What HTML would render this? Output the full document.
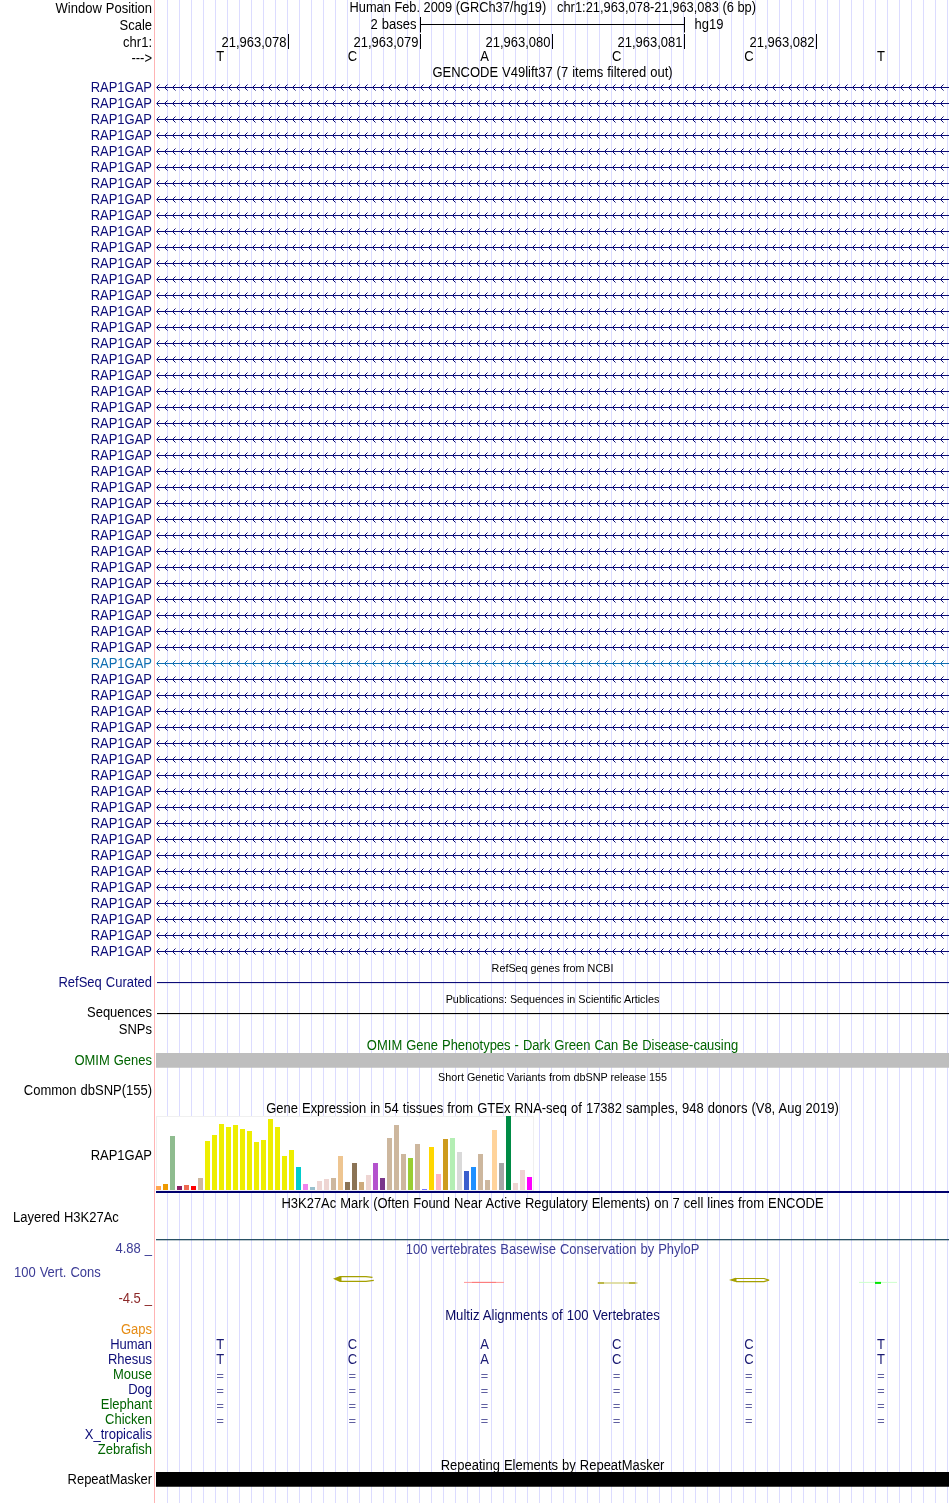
<!DOCTYPE html>
<html><head><meta charset="utf-8"><style>html,body{margin:0;padding:0;background:#fff;width:950px;height:1503px;overflow:hidden}</style></head>
<body><svg width="950" height="1503" viewBox="0 0 950 1503" font-family='"Liberation Sans", sans-serif' font-size="13" style="display:block;will-change:transform"><rect x="167" y="0" width="1" height="1503" fill="#dcdcff"/>
<rect x="179" y="0" width="1" height="1503" fill="#dcdcff"/>
<rect x="191" y="0" width="1" height="1503" fill="#dcdcff"/>
<rect x="203" y="0" width="1" height="1503" fill="#dcdcff"/>
<rect x="215" y="0" width="1" height="1503" fill="#dcdcff"/>
<rect x="227" y="0" width="1" height="1503" fill="#dcdcff"/>
<rect x="239" y="0" width="1" height="1503" fill="#dcdcff"/>
<rect x="251" y="0" width="1" height="1503" fill="#dcdcff"/>
<rect x="263" y="0" width="1" height="1503" fill="#dcdcff"/>
<rect x="275" y="0" width="1" height="1503" fill="#dcdcff"/>
<rect x="287" y="0" width="1" height="1503" fill="#dcdcff"/>
<rect x="299" y="0" width="1" height="1503" fill="#dcdcff"/>
<rect x="311" y="0" width="1" height="1503" fill="#dcdcff"/>
<rect x="323" y="0" width="1" height="1503" fill="#dcdcff"/>
<rect x="335" y="0" width="1" height="1503" fill="#dcdcff"/>
<rect x="347" y="0" width="1" height="1503" fill="#dcdcff"/>
<rect x="359" y="0" width="1" height="1503" fill="#dcdcff"/>
<rect x="371" y="0" width="1" height="1503" fill="#dcdcff"/>
<rect x="383" y="0" width="1" height="1503" fill="#dcdcff"/>
<rect x="395" y="0" width="1" height="1503" fill="#dcdcff"/>
<rect x="407" y="0" width="1" height="1503" fill="#dcdcff"/>
<rect x="419" y="0" width="1" height="1503" fill="#dcdcff"/>
<rect x="431" y="0" width="1" height="1503" fill="#dcdcff"/>
<rect x="443" y="0" width="1" height="1503" fill="#dcdcff"/>
<rect x="455" y="0" width="1" height="1503" fill="#dcdcff"/>
<rect x="467" y="0" width="1" height="1503" fill="#dcdcff"/>
<rect x="479" y="0" width="1" height="1503" fill="#dcdcff"/>
<rect x="491" y="0" width="1" height="1503" fill="#dcdcff"/>
<rect x="503" y="0" width="1" height="1503" fill="#dcdcff"/>
<rect x="515" y="0" width="1" height="1503" fill="#dcdcff"/>
<rect x="527" y="0" width="1" height="1503" fill="#dcdcff"/>
<rect x="539" y="0" width="1" height="1503" fill="#dcdcff"/>
<rect x="551" y="0" width="1" height="1503" fill="#dcdcff"/>
<rect x="563" y="0" width="1" height="1503" fill="#dcdcff"/>
<rect x="575" y="0" width="1" height="1503" fill="#dcdcff"/>
<rect x="587" y="0" width="1" height="1503" fill="#dcdcff"/>
<rect x="599" y="0" width="1" height="1503" fill="#dcdcff"/>
<rect x="611" y="0" width="1" height="1503" fill="#dcdcff"/>
<rect x="623" y="0" width="1" height="1503" fill="#dcdcff"/>
<rect x="635" y="0" width="1" height="1503" fill="#dcdcff"/>
<rect x="647" y="0" width="1" height="1503" fill="#dcdcff"/>
<rect x="659" y="0" width="1" height="1503" fill="#dcdcff"/>
<rect x="671" y="0" width="1" height="1503" fill="#dcdcff"/>
<rect x="683" y="0" width="1" height="1503" fill="#dcdcff"/>
<rect x="695" y="0" width="1" height="1503" fill="#dcdcff"/>
<rect x="707" y="0" width="1" height="1503" fill="#dcdcff"/>
<rect x="719" y="0" width="1" height="1503" fill="#dcdcff"/>
<rect x="731" y="0" width="1" height="1503" fill="#dcdcff"/>
<rect x="743" y="0" width="1" height="1503" fill="#dcdcff"/>
<rect x="755" y="0" width="1" height="1503" fill="#dcdcff"/>
<rect x="767" y="0" width="1" height="1503" fill="#dcdcff"/>
<rect x="779" y="0" width="1" height="1503" fill="#dcdcff"/>
<rect x="791" y="0" width="1" height="1503" fill="#dcdcff"/>
<rect x="803" y="0" width="1" height="1503" fill="#dcdcff"/>
<rect x="815" y="0" width="1" height="1503" fill="#dcdcff"/>
<rect x="827" y="0" width="1" height="1503" fill="#dcdcff"/>
<rect x="839" y="0" width="1" height="1503" fill="#dcdcff"/>
<rect x="851" y="0" width="1" height="1503" fill="#dcdcff"/>
<rect x="863" y="0" width="1" height="1503" fill="#dcdcff"/>
<rect x="875" y="0" width="1" height="1503" fill="#dcdcff"/>
<rect x="887" y="0" width="1" height="1503" fill="#dcdcff"/>
<rect x="899" y="0" width="1" height="1503" fill="#dcdcff"/>
<rect x="911" y="0" width="1" height="1503" fill="#dcdcff"/>
<rect x="923" y="0" width="1" height="1503" fill="#dcdcff"/>
<rect x="935" y="0" width="1" height="1503" fill="#dcdcff"/>
<rect x="947" y="0" width="1" height="1503" fill="#dcdcff"/>
<rect x="154" y="0" width="1" height="1503" fill="#ffb4b4"/>
<text transform="translate(152,13) scale(1,1.08)" text-anchor="end" word-spacing="0.4" >Window Position</text>
<text transform="translate(349.5,11.8) scale(0.987,1.08)" >Human Feb. 2009 (GRCh37/hg19)</text>
<text transform="translate(557,11.8) scale(0.991,1.08)" >chr1:21,963,078-21,963,083 (6 bp)</text>
<text transform="translate(152,30) scale(1,1.08)" text-anchor="end" >Scale</text>
<text transform="translate(416.5,28.7) scale(1,1.08)" text-anchor="end" word-spacing="0.4" >2 bases</text>
<rect x="420" y="24" width="265" height="1" fill="#000"/>
<rect x="420" y="17" width="1" height="15.5" fill="#000"/>
<rect x="684" y="17" width="1" height="15.5" fill="#000"/>
<text transform="translate(694.5,28.7) scale(1,1.08)" >hg19</text>
<text transform="translate(152,47) scale(1,1.08)" text-anchor="end" >chr1:</text>
<text transform="translate(286.5,46.8) scale(1,1.08)" text-anchor="end" >21,963,078</text>
<rect x="288" y="34" width="1" height="15" fill="#000"/>
<text transform="translate(418.5,46.8) scale(1,1.08)" text-anchor="end" >21,963,079</text>
<rect x="420" y="34" width="1" height="15" fill="#000"/>
<text transform="translate(550.5,46.8) scale(1,1.08)" text-anchor="end" >21,963,080</text>
<rect x="552" y="34" width="1" height="15" fill="#000"/>
<text transform="translate(682.5,46.8) scale(1,1.08)" text-anchor="end" >21,963,081</text>
<rect x="684" y="34" width="1" height="15" fill="#000"/>
<text transform="translate(814.5,46.8) scale(1,1.08)" text-anchor="end" >21,963,082</text>
<rect x="816" y="34" width="1" height="15" fill="#000"/>
<text transform="translate(152,63) scale(1,1.08)" text-anchor="end" >---&gt;</text>
<text transform="translate(220.3,61) scale(1,1.08)" text-anchor="middle" >T</text>
<text transform="translate(352.45000000000005,61) scale(1,1.08)" text-anchor="middle" >C</text>
<text transform="translate(484.6,61) scale(1,1.08)" text-anchor="middle" >A</text>
<text transform="translate(616.75,61) scale(1,1.08)" text-anchor="middle" >C</text>
<text transform="translate(748.9000000000001,61) scale(1,1.08)" text-anchor="middle" >C</text>
<text transform="translate(881.05,61) scale(1,1.08)" text-anchor="middle" >T</text>
<text transform="translate(552.5,77) scale(1,1.08)" text-anchor="middle" word-spacing="0.4" >GENCODE V49lift37 (7 items filtered out)</text>
<defs><g id="arr" shape-rendering="crispEdges"><rect x="157" y="0" width="792" height="1"/><rect x="156" y="0" width="1" height="1" fill-opacity="0.6"/><path d="M157,-1h1v3h-1zM158,-2h1v1h-1zM158,2h1v1h-1zM165,-1h1v3h-1zM166,-2h1v1h-1zM166,2h1v1h-1zM173,-1h1v3h-1zM174,-2h1v1h-1zM174,2h1v1h-1zM181,-1h1v3h-1zM182,-2h1v1h-1zM182,2h1v1h-1zM189,-1h1v3h-1zM190,-2h1v1h-1zM190,2h1v1h-1zM197,-1h1v3h-1zM198,-2h1v1h-1zM198,2h1v1h-1zM205,-1h1v3h-1zM206,-2h1v1h-1zM206,2h1v1h-1zM213,-1h1v3h-1zM214,-2h1v1h-1zM214,2h1v1h-1zM221,-1h1v3h-1zM222,-2h1v1h-1zM222,2h1v1h-1zM229,-1h1v3h-1zM230,-2h1v1h-1zM230,2h1v1h-1zM237,-1h1v3h-1zM238,-2h1v1h-1zM238,2h1v1h-1zM245,-1h1v3h-1zM246,-2h1v1h-1zM246,2h1v1h-1zM253,-1h1v3h-1zM254,-2h1v1h-1zM254,2h1v1h-1zM261,-1h1v3h-1zM262,-2h1v1h-1zM262,2h1v1h-1zM269,-1h1v3h-1zM270,-2h1v1h-1zM270,2h1v1h-1zM277,-1h1v3h-1zM278,-2h1v1h-1zM278,2h1v1h-1zM285,-1h1v3h-1zM286,-2h1v1h-1zM286,2h1v1h-1zM293,-1h1v3h-1zM294,-2h1v1h-1zM294,2h1v1h-1zM301,-1h1v3h-1zM302,-2h1v1h-1zM302,2h1v1h-1zM309,-1h1v3h-1zM310,-2h1v1h-1zM310,2h1v1h-1zM317,-1h1v3h-1zM318,-2h1v1h-1zM318,2h1v1h-1zM325,-1h1v3h-1zM326,-2h1v1h-1zM326,2h1v1h-1zM333,-1h1v3h-1zM334,-2h1v1h-1zM334,2h1v1h-1zM341,-1h1v3h-1zM342,-2h1v1h-1zM342,2h1v1h-1zM349,-1h1v3h-1zM350,-2h1v1h-1zM350,2h1v1h-1zM357,-1h1v3h-1zM358,-2h1v1h-1zM358,2h1v1h-1zM365,-1h1v3h-1zM366,-2h1v1h-1zM366,2h1v1h-1zM373,-1h1v3h-1zM374,-2h1v1h-1zM374,2h1v1h-1zM381,-1h1v3h-1zM382,-2h1v1h-1zM382,2h1v1h-1zM389,-1h1v3h-1zM390,-2h1v1h-1zM390,2h1v1h-1zM397,-1h1v3h-1zM398,-2h1v1h-1zM398,2h1v1h-1zM405,-1h1v3h-1zM406,-2h1v1h-1zM406,2h1v1h-1zM413,-1h1v3h-1zM414,-2h1v1h-1zM414,2h1v1h-1zM421,-1h1v3h-1zM422,-2h1v1h-1zM422,2h1v1h-1zM429,-1h1v3h-1zM430,-2h1v1h-1zM430,2h1v1h-1zM437,-1h1v3h-1zM438,-2h1v1h-1zM438,2h1v1h-1zM445,-1h1v3h-1zM446,-2h1v1h-1zM446,2h1v1h-1zM453,-1h1v3h-1zM454,-2h1v1h-1zM454,2h1v1h-1zM461,-1h1v3h-1zM462,-2h1v1h-1zM462,2h1v1h-1zM469,-1h1v3h-1zM470,-2h1v1h-1zM470,2h1v1h-1zM477,-1h1v3h-1zM478,-2h1v1h-1zM478,2h1v1h-1zM485,-1h1v3h-1zM486,-2h1v1h-1zM486,2h1v1h-1zM493,-1h1v3h-1zM494,-2h1v1h-1zM494,2h1v1h-1zM501,-1h1v3h-1zM502,-2h1v1h-1zM502,2h1v1h-1zM509,-1h1v3h-1zM510,-2h1v1h-1zM510,2h1v1h-1zM517,-1h1v3h-1zM518,-2h1v1h-1zM518,2h1v1h-1zM525,-1h1v3h-1zM526,-2h1v1h-1zM526,2h1v1h-1zM533,-1h1v3h-1zM534,-2h1v1h-1zM534,2h1v1h-1zM541,-1h1v3h-1zM542,-2h1v1h-1zM542,2h1v1h-1zM549,-1h1v3h-1zM550,-2h1v1h-1zM550,2h1v1h-1zM557,-1h1v3h-1zM558,-2h1v1h-1zM558,2h1v1h-1zM565,-1h1v3h-1zM566,-2h1v1h-1zM566,2h1v1h-1zM573,-1h1v3h-1zM574,-2h1v1h-1zM574,2h1v1h-1zM581,-1h1v3h-1zM582,-2h1v1h-1zM582,2h1v1h-1zM589,-1h1v3h-1zM590,-2h1v1h-1zM590,2h1v1h-1zM597,-1h1v3h-1zM598,-2h1v1h-1zM598,2h1v1h-1zM605,-1h1v3h-1zM606,-2h1v1h-1zM606,2h1v1h-1zM613,-1h1v3h-1zM614,-2h1v1h-1zM614,2h1v1h-1zM621,-1h1v3h-1zM622,-2h1v1h-1zM622,2h1v1h-1zM629,-1h1v3h-1zM630,-2h1v1h-1zM630,2h1v1h-1zM637,-1h1v3h-1zM638,-2h1v1h-1zM638,2h1v1h-1zM645,-1h1v3h-1zM646,-2h1v1h-1zM646,2h1v1h-1zM653,-1h1v3h-1zM654,-2h1v1h-1zM654,2h1v1h-1zM661,-1h1v3h-1zM662,-2h1v1h-1zM662,2h1v1h-1zM669,-1h1v3h-1zM670,-2h1v1h-1zM670,2h1v1h-1zM677,-1h1v3h-1zM678,-2h1v1h-1zM678,2h1v1h-1zM685,-1h1v3h-1zM686,-2h1v1h-1zM686,2h1v1h-1zM693,-1h1v3h-1zM694,-2h1v1h-1zM694,2h1v1h-1zM701,-1h1v3h-1zM702,-2h1v1h-1zM702,2h1v1h-1zM709,-1h1v3h-1zM710,-2h1v1h-1zM710,2h1v1h-1zM717,-1h1v3h-1zM718,-2h1v1h-1zM718,2h1v1h-1zM725,-1h1v3h-1zM726,-2h1v1h-1zM726,2h1v1h-1zM733,-1h1v3h-1zM734,-2h1v1h-1zM734,2h1v1h-1zM741,-1h1v3h-1zM742,-2h1v1h-1zM742,2h1v1h-1zM749,-1h1v3h-1zM750,-2h1v1h-1zM750,2h1v1h-1zM757,-1h1v3h-1zM758,-2h1v1h-1zM758,2h1v1h-1zM765,-1h1v3h-1zM766,-2h1v1h-1zM766,2h1v1h-1zM773,-1h1v3h-1zM774,-2h1v1h-1zM774,2h1v1h-1zM781,-1h1v3h-1zM782,-2h1v1h-1zM782,2h1v1h-1zM789,-1h1v3h-1zM790,-2h1v1h-1zM790,2h1v1h-1zM797,-1h1v3h-1zM798,-2h1v1h-1zM798,2h1v1h-1zM805,-1h1v3h-1zM806,-2h1v1h-1zM806,2h1v1h-1zM813,-1h1v3h-1zM814,-2h1v1h-1zM814,2h1v1h-1zM821,-1h1v3h-1zM822,-2h1v1h-1zM822,2h1v1h-1zM829,-1h1v3h-1zM830,-2h1v1h-1zM830,2h1v1h-1zM837,-1h1v3h-1zM838,-2h1v1h-1zM838,2h1v1h-1zM845,-1h1v3h-1zM846,-2h1v1h-1zM846,2h1v1h-1zM853,-1h1v3h-1zM854,-2h1v1h-1zM854,2h1v1h-1zM861,-1h1v3h-1zM862,-2h1v1h-1zM862,2h1v1h-1zM869,-1h1v3h-1zM870,-2h1v1h-1zM870,2h1v1h-1zM877,-1h1v3h-1zM878,-2h1v1h-1zM878,2h1v1h-1zM885,-1h1v3h-1zM886,-2h1v1h-1zM886,2h1v1h-1zM893,-1h1v3h-1zM894,-2h1v1h-1zM894,2h1v1h-1zM901,-1h1v3h-1zM902,-2h1v1h-1zM902,2h1v1h-1zM909,-1h1v3h-1zM910,-2h1v1h-1zM910,2h1v1h-1zM917,-1h1v3h-1zM918,-2h1v1h-1zM918,2h1v1h-1zM925,-1h1v3h-1zM926,-2h1v1h-1zM926,2h1v1h-1zM933,-1h1v3h-1zM934,-2h1v1h-1zM934,2h1v1h-1zM941,-1h1v3h-1zM942,-2h1v1h-1zM942,2h1v1h-1z"/><path d="M159,-3h1v1h-1zM159,3h1v1h-1zM167,-3h1v1h-1zM167,3h1v1h-1zM175,-3h1v1h-1zM175,3h1v1h-1zM183,-3h1v1h-1zM183,3h1v1h-1zM191,-3h1v1h-1zM191,3h1v1h-1zM199,-3h1v1h-1zM199,3h1v1h-1zM207,-3h1v1h-1zM207,3h1v1h-1zM215,-3h1v1h-1zM215,3h1v1h-1zM223,-3h1v1h-1zM223,3h1v1h-1zM231,-3h1v1h-1zM231,3h1v1h-1zM239,-3h1v1h-1zM239,3h1v1h-1zM247,-3h1v1h-1zM247,3h1v1h-1zM255,-3h1v1h-1zM255,3h1v1h-1zM263,-3h1v1h-1zM263,3h1v1h-1zM271,-3h1v1h-1zM271,3h1v1h-1zM279,-3h1v1h-1zM279,3h1v1h-1zM287,-3h1v1h-1zM287,3h1v1h-1zM295,-3h1v1h-1zM295,3h1v1h-1zM303,-3h1v1h-1zM303,3h1v1h-1zM311,-3h1v1h-1zM311,3h1v1h-1zM319,-3h1v1h-1zM319,3h1v1h-1zM327,-3h1v1h-1zM327,3h1v1h-1zM335,-3h1v1h-1zM335,3h1v1h-1zM343,-3h1v1h-1zM343,3h1v1h-1zM351,-3h1v1h-1zM351,3h1v1h-1zM359,-3h1v1h-1zM359,3h1v1h-1zM367,-3h1v1h-1zM367,3h1v1h-1zM375,-3h1v1h-1zM375,3h1v1h-1zM383,-3h1v1h-1zM383,3h1v1h-1zM391,-3h1v1h-1zM391,3h1v1h-1zM399,-3h1v1h-1zM399,3h1v1h-1zM407,-3h1v1h-1zM407,3h1v1h-1zM415,-3h1v1h-1zM415,3h1v1h-1zM423,-3h1v1h-1zM423,3h1v1h-1zM431,-3h1v1h-1zM431,3h1v1h-1zM439,-3h1v1h-1zM439,3h1v1h-1zM447,-3h1v1h-1zM447,3h1v1h-1zM455,-3h1v1h-1zM455,3h1v1h-1zM463,-3h1v1h-1zM463,3h1v1h-1zM471,-3h1v1h-1zM471,3h1v1h-1zM479,-3h1v1h-1zM479,3h1v1h-1zM487,-3h1v1h-1zM487,3h1v1h-1zM495,-3h1v1h-1zM495,3h1v1h-1zM503,-3h1v1h-1zM503,3h1v1h-1zM511,-3h1v1h-1zM511,3h1v1h-1zM519,-3h1v1h-1zM519,3h1v1h-1zM527,-3h1v1h-1zM527,3h1v1h-1zM535,-3h1v1h-1zM535,3h1v1h-1zM543,-3h1v1h-1zM543,3h1v1h-1zM551,-3h1v1h-1zM551,3h1v1h-1zM559,-3h1v1h-1zM559,3h1v1h-1zM567,-3h1v1h-1zM567,3h1v1h-1zM575,-3h1v1h-1zM575,3h1v1h-1zM583,-3h1v1h-1zM583,3h1v1h-1zM591,-3h1v1h-1zM591,3h1v1h-1zM599,-3h1v1h-1zM599,3h1v1h-1zM607,-3h1v1h-1zM607,3h1v1h-1zM615,-3h1v1h-1zM615,3h1v1h-1zM623,-3h1v1h-1zM623,3h1v1h-1zM631,-3h1v1h-1zM631,3h1v1h-1zM639,-3h1v1h-1zM639,3h1v1h-1zM647,-3h1v1h-1zM647,3h1v1h-1zM655,-3h1v1h-1zM655,3h1v1h-1zM663,-3h1v1h-1zM663,3h1v1h-1zM671,-3h1v1h-1zM671,3h1v1h-1zM679,-3h1v1h-1zM679,3h1v1h-1zM687,-3h1v1h-1zM687,3h1v1h-1zM695,-3h1v1h-1zM695,3h1v1h-1zM703,-3h1v1h-1zM703,3h1v1h-1zM711,-3h1v1h-1zM711,3h1v1h-1zM719,-3h1v1h-1zM719,3h1v1h-1zM727,-3h1v1h-1zM727,3h1v1h-1zM735,-3h1v1h-1zM735,3h1v1h-1zM743,-3h1v1h-1zM743,3h1v1h-1zM751,-3h1v1h-1zM751,3h1v1h-1zM759,-3h1v1h-1zM759,3h1v1h-1zM767,-3h1v1h-1zM767,3h1v1h-1zM775,-3h1v1h-1zM775,3h1v1h-1zM783,-3h1v1h-1zM783,3h1v1h-1zM791,-3h1v1h-1zM791,3h1v1h-1zM799,-3h1v1h-1zM799,3h1v1h-1zM807,-3h1v1h-1zM807,3h1v1h-1zM815,-3h1v1h-1zM815,3h1v1h-1zM823,-3h1v1h-1zM823,3h1v1h-1zM831,-3h1v1h-1zM831,3h1v1h-1zM839,-3h1v1h-1zM839,3h1v1h-1zM847,-3h1v1h-1zM847,3h1v1h-1zM855,-3h1v1h-1zM855,3h1v1h-1zM863,-3h1v1h-1zM863,3h1v1h-1zM871,-3h1v1h-1zM871,3h1v1h-1zM879,-3h1v1h-1zM879,3h1v1h-1zM887,-3h1v1h-1zM887,3h1v1h-1zM895,-3h1v1h-1zM895,3h1v1h-1zM903,-3h1v1h-1zM903,3h1v1h-1zM911,-3h1v1h-1zM911,3h1v1h-1zM919,-3h1v1h-1zM919,3h1v1h-1zM927,-3h1v1h-1zM927,3h1v1h-1zM935,-3h1v1h-1zM935,3h1v1h-1zM943,-3h1v1h-1zM943,3h1v1h-1z" fill-opacity="0.55"/></g></defs>
<text transform="translate(152,92) scale(1,1.08)" text-anchor="end" fill="rgb(12,12,120)" >RAP1GAP</text>
<use href="#arr" y="87" fill="rgb(12,12,120)"/>
<text transform="translate(152,108) scale(1,1.08)" text-anchor="end" fill="rgb(12,12,120)" >RAP1GAP</text>
<use href="#arr" y="103" fill="rgb(12,12,120)"/>
<text transform="translate(152,124) scale(1,1.08)" text-anchor="end" fill="rgb(12,12,120)" >RAP1GAP</text>
<use href="#arr" y="119" fill="rgb(12,12,120)"/>
<text transform="translate(152,140) scale(1,1.08)" text-anchor="end" fill="rgb(12,12,120)" >RAP1GAP</text>
<use href="#arr" y="135" fill="rgb(12,12,120)"/>
<text transform="translate(152,156) scale(1,1.08)" text-anchor="end" fill="rgb(12,12,120)" >RAP1GAP</text>
<use href="#arr" y="151" fill="rgb(12,12,120)"/>
<text transform="translate(152,172) scale(1,1.08)" text-anchor="end" fill="rgb(12,12,120)" >RAP1GAP</text>
<use href="#arr" y="167" fill="rgb(12,12,120)"/>
<text transform="translate(152,188) scale(1,1.08)" text-anchor="end" fill="rgb(12,12,120)" >RAP1GAP</text>
<use href="#arr" y="183" fill="rgb(12,12,120)"/>
<text transform="translate(152,204) scale(1,1.08)" text-anchor="end" fill="rgb(12,12,120)" >RAP1GAP</text>
<use href="#arr" y="199" fill="rgb(12,12,120)"/>
<text transform="translate(152,220) scale(1,1.08)" text-anchor="end" fill="rgb(12,12,120)" >RAP1GAP</text>
<use href="#arr" y="215" fill="rgb(12,12,120)"/>
<text transform="translate(152,236) scale(1,1.08)" text-anchor="end" fill="rgb(12,12,120)" >RAP1GAP</text>
<use href="#arr" y="231" fill="rgb(12,12,120)"/>
<text transform="translate(152,252) scale(1,1.08)" text-anchor="end" fill="rgb(12,12,120)" >RAP1GAP</text>
<use href="#arr" y="247" fill="rgb(12,12,120)"/>
<text transform="translate(152,268) scale(1,1.08)" text-anchor="end" fill="rgb(12,12,120)" >RAP1GAP</text>
<use href="#arr" y="263" fill="rgb(12,12,120)"/>
<text transform="translate(152,284) scale(1,1.08)" text-anchor="end" fill="rgb(12,12,120)" >RAP1GAP</text>
<use href="#arr" y="279" fill="rgb(12,12,120)"/>
<text transform="translate(152,300) scale(1,1.08)" text-anchor="end" fill="rgb(12,12,120)" >RAP1GAP</text>
<use href="#arr" y="295" fill="rgb(12,12,120)"/>
<text transform="translate(152,316) scale(1,1.08)" text-anchor="end" fill="rgb(12,12,120)" >RAP1GAP</text>
<use href="#arr" y="311" fill="rgb(12,12,120)"/>
<text transform="translate(152,332) scale(1,1.08)" text-anchor="end" fill="rgb(12,12,120)" >RAP1GAP</text>
<use href="#arr" y="327" fill="rgb(12,12,120)"/>
<text transform="translate(152,348) scale(1,1.08)" text-anchor="end" fill="rgb(12,12,120)" >RAP1GAP</text>
<use href="#arr" y="343" fill="rgb(12,12,120)"/>
<text transform="translate(152,364) scale(1,1.08)" text-anchor="end" fill="rgb(12,12,120)" >RAP1GAP</text>
<use href="#arr" y="359" fill="rgb(12,12,120)"/>
<text transform="translate(152,380) scale(1,1.08)" text-anchor="end" fill="rgb(12,12,120)" >RAP1GAP</text>
<use href="#arr" y="375" fill="rgb(12,12,120)"/>
<text transform="translate(152,396) scale(1,1.08)" text-anchor="end" fill="rgb(12,12,120)" >RAP1GAP</text>
<use href="#arr" y="391" fill="rgb(12,12,120)"/>
<text transform="translate(152,412) scale(1,1.08)" text-anchor="end" fill="rgb(12,12,120)" >RAP1GAP</text>
<use href="#arr" y="407" fill="rgb(12,12,120)"/>
<text transform="translate(152,428) scale(1,1.08)" text-anchor="end" fill="rgb(12,12,120)" >RAP1GAP</text>
<use href="#arr" y="423" fill="rgb(12,12,120)"/>
<text transform="translate(152,444) scale(1,1.08)" text-anchor="end" fill="rgb(12,12,120)" >RAP1GAP</text>
<use href="#arr" y="439" fill="rgb(12,12,120)"/>
<text transform="translate(152,460) scale(1,1.08)" text-anchor="end" fill="rgb(12,12,120)" >RAP1GAP</text>
<use href="#arr" y="455" fill="rgb(12,12,120)"/>
<text transform="translate(152,476) scale(1,1.08)" text-anchor="end" fill="rgb(12,12,120)" >RAP1GAP</text>
<use href="#arr" y="471" fill="rgb(12,12,120)"/>
<text transform="translate(152,492) scale(1,1.08)" text-anchor="end" fill="rgb(12,12,120)" >RAP1GAP</text>
<use href="#arr" y="487" fill="rgb(12,12,120)"/>
<text transform="translate(152,508) scale(1,1.08)" text-anchor="end" fill="rgb(12,12,120)" >RAP1GAP</text>
<use href="#arr" y="503" fill="rgb(12,12,120)"/>
<text transform="translate(152,524) scale(1,1.08)" text-anchor="end" fill="rgb(12,12,120)" >RAP1GAP</text>
<use href="#arr" y="519" fill="rgb(12,12,120)"/>
<text transform="translate(152,540) scale(1,1.08)" text-anchor="end" fill="rgb(12,12,120)" >RAP1GAP</text>
<use href="#arr" y="535" fill="rgb(12,12,120)"/>
<text transform="translate(152,556) scale(1,1.08)" text-anchor="end" fill="rgb(12,12,120)" >RAP1GAP</text>
<use href="#arr" y="551" fill="rgb(12,12,120)"/>
<text transform="translate(152,572) scale(1,1.08)" text-anchor="end" fill="rgb(12,12,120)" >RAP1GAP</text>
<use href="#arr" y="567" fill="rgb(12,12,120)"/>
<text transform="translate(152,588) scale(1,1.08)" text-anchor="end" fill="rgb(12,12,120)" >RAP1GAP</text>
<use href="#arr" y="583" fill="rgb(12,12,120)"/>
<text transform="translate(152,604) scale(1,1.08)" text-anchor="end" fill="rgb(12,12,120)" >RAP1GAP</text>
<use href="#arr" y="599" fill="rgb(12,12,120)"/>
<text transform="translate(152,620) scale(1,1.08)" text-anchor="end" fill="rgb(12,12,120)" >RAP1GAP</text>
<use href="#arr" y="615" fill="rgb(12,12,120)"/>
<text transform="translate(152,636) scale(1,1.08)" text-anchor="end" fill="rgb(12,12,120)" >RAP1GAP</text>
<use href="#arr" y="631" fill="rgb(12,12,120)"/>
<text transform="translate(152,652) scale(1,1.08)" text-anchor="end" fill="rgb(12,12,120)" >RAP1GAP</text>
<use href="#arr" y="647" fill="rgb(12,12,120)"/>
<text transform="translate(152,668) scale(1,1.08)" text-anchor="end" fill="rgb(15,110,178)" >RAP1GAP</text>
<use href="#arr" y="663" fill="rgb(15,110,178)"/>
<text transform="translate(152,684) scale(1,1.08)" text-anchor="end" fill="rgb(12,12,120)" >RAP1GAP</text>
<use href="#arr" y="679" fill="rgb(12,12,120)"/>
<text transform="translate(152,700) scale(1,1.08)" text-anchor="end" fill="rgb(12,12,120)" >RAP1GAP</text>
<use href="#arr" y="695" fill="rgb(12,12,120)"/>
<text transform="translate(152,716) scale(1,1.08)" text-anchor="end" fill="rgb(12,12,120)" >RAP1GAP</text>
<use href="#arr" y="711" fill="rgb(12,12,120)"/>
<text transform="translate(152,732) scale(1,1.08)" text-anchor="end" fill="rgb(12,12,120)" >RAP1GAP</text>
<use href="#arr" y="727" fill="rgb(12,12,120)"/>
<text transform="translate(152,748) scale(1,1.08)" text-anchor="end" fill="rgb(12,12,120)" >RAP1GAP</text>
<use href="#arr" y="743" fill="rgb(12,12,120)"/>
<text transform="translate(152,764) scale(1,1.08)" text-anchor="end" fill="rgb(12,12,120)" >RAP1GAP</text>
<use href="#arr" y="759" fill="rgb(12,12,120)"/>
<text transform="translate(152,780) scale(1,1.08)" text-anchor="end" fill="rgb(12,12,120)" >RAP1GAP</text>
<use href="#arr" y="775" fill="rgb(12,12,120)"/>
<text transform="translate(152,796) scale(1,1.08)" text-anchor="end" fill="rgb(12,12,120)" >RAP1GAP</text>
<use href="#arr" y="791" fill="rgb(12,12,120)"/>
<text transform="translate(152,812) scale(1,1.08)" text-anchor="end" fill="rgb(12,12,120)" >RAP1GAP</text>
<use href="#arr" y="807" fill="rgb(12,12,120)"/>
<text transform="translate(152,828) scale(1,1.08)" text-anchor="end" fill="rgb(12,12,120)" >RAP1GAP</text>
<use href="#arr" y="823" fill="rgb(12,12,120)"/>
<text transform="translate(152,844) scale(1,1.08)" text-anchor="end" fill="rgb(12,12,120)" >RAP1GAP</text>
<use href="#arr" y="839" fill="rgb(12,12,120)"/>
<text transform="translate(152,860) scale(1,1.08)" text-anchor="end" fill="rgb(12,12,120)" >RAP1GAP</text>
<use href="#arr" y="855" fill="rgb(12,12,120)"/>
<text transform="translate(152,876) scale(1,1.08)" text-anchor="end" fill="rgb(12,12,120)" >RAP1GAP</text>
<use href="#arr" y="871" fill="rgb(12,12,120)"/>
<text transform="translate(152,892) scale(1,1.08)" text-anchor="end" fill="rgb(12,12,120)" >RAP1GAP</text>
<use href="#arr" y="887" fill="rgb(12,12,120)"/>
<text transform="translate(152,908) scale(1,1.08)" text-anchor="end" fill="rgb(12,12,120)" >RAP1GAP</text>
<use href="#arr" y="903" fill="rgb(12,12,120)"/>
<text transform="translate(152,924) scale(1,1.08)" text-anchor="end" fill="rgb(12,12,120)" >RAP1GAP</text>
<use href="#arr" y="919" fill="rgb(12,12,120)"/>
<text transform="translate(152,940) scale(1,1.08)" text-anchor="end" fill="rgb(12,12,120)" >RAP1GAP</text>
<use href="#arr" y="935" fill="rgb(12,12,120)"/>
<text transform="translate(152,956) scale(1,1.08)" text-anchor="end" fill="rgb(12,12,120)" >RAP1GAP</text>
<use href="#arr" y="951" fill="rgb(12,12,120)"/>
<text transform="translate(552.5,972) scale(1,1.0)" font-size="10.8" text-anchor="middle" >RefSeq genes from NCBI</text>
<text transform="translate(152,986.5) scale(1,1.08)" text-anchor="end" fill="rgb(12,12,120)" word-spacing="0.4" >RefSeq Curated</text>
<rect x="157" y="982" width="792" height="1.1" fill="rgb(12,12,120)"/>
<text transform="translate(552.5,1003) scale(1,1.0)" font-size="10.8" text-anchor="middle" >Publications: Sequences in Scientific Articles</text>
<text transform="translate(152,1017) scale(1,1.08)" text-anchor="end" >Sequences</text>
<rect x="157" y="1013" width="792" height="1.1" fill="#000"/>
<text transform="translate(152,1033.5) scale(1,1.08)" text-anchor="end" >SNPs</text>
<text transform="translate(552.5,1050) scale(1,1.08)" text-anchor="middle" fill="rgb(0,100,0)" word-spacing="0.4" >OMIM Gene Phenotypes - Dark Green Can Be Disease-causing</text>
<text transform="translate(152,1064.5) scale(1,1.08)" text-anchor="end" fill="rgb(0,100,0)" word-spacing="0.4" >OMIM Genes</text>
<rect x="156" y="1053" width="793" height="14.75" fill="#bebebe"/>
<text transform="translate(552.5,1081) scale(1,1.0)" font-size="10.8" text-anchor="middle" >Short Genetic Variants from dbSNP release 155</text>
<text transform="translate(152,1095) scale(1,1.08)" text-anchor="end" word-spacing="0.4" >Common dbSNP(155)</text>
<text transform="translate(552.5,1113) scale(1,1.08)" text-anchor="middle" word-spacing="0.4" >Gene Expression in 54 tissues from GTEx RNA-seq of 17382 samples, 948 donors (V8, Aug 2019)</text>
<rect x="156" y="1116" width="378" height="75" fill="#fff"/>
<rect x="156.5" y="1116.5" width="377" height="74" fill="none" stroke="#f0f0f0" stroke-width="1"/>
<rect x="156" y="1186" width="5" height="4" fill="#FFA54F"/>
<rect x="163" y="1184" width="5" height="6" fill="#EE9A00"/>
<rect x="170" y="1136" width="5" height="54" fill="#8FBC8F"/>
<rect x="177" y="1186" width="5" height="4" fill="#8B1C62"/>
<rect x="184" y="1185" width="5" height="5" fill="#EE6A50"/>
<rect x="191" y="1186" width="5" height="4" fill="#FF0000"/>
<rect x="198" y="1178" width="5" height="12" fill="#CDB79E"/>
<rect x="205" y="1141" width="5" height="49" fill="#EEEE00"/>
<rect x="212" y="1135" width="5" height="55" fill="#EEEE00"/>
<rect x="219" y="1124" width="5" height="66" fill="#EEEE00"/>
<rect x="226" y="1127" width="5" height="63" fill="#EEEE00"/>
<rect x="233" y="1125" width="5" height="65" fill="#EEEE00"/>
<rect x="240" y="1129" width="5" height="61" fill="#EEEE00"/>
<rect x="247" y="1131" width="5" height="59" fill="#EEEE00"/>
<rect x="254" y="1142" width="5" height="48" fill="#EEEE00"/>
<rect x="261" y="1140" width="5" height="50" fill="#EEEE00"/>
<rect x="268" y="1119" width="5" height="71" fill="#EEEE00"/>
<rect x="275" y="1127" width="5" height="63" fill="#EEEE00"/>
<rect x="282" y="1156" width="5" height="34" fill="#EEEE00"/>
<rect x="289" y="1150" width="5" height="40" fill="#EEEE00"/>
<rect x="296" y="1167" width="5" height="23" fill="#00CDCD"/>
<rect x="303" y="1184" width="5" height="6" fill="#EE82EE"/>
<rect x="310" y="1187" width="5" height="3" fill="#9AC0CD"/>
<rect x="317" y="1181" width="5" height="9" fill="#EED5D2"/>
<rect x="324" y="1179" width="5" height="11" fill="#EED5D2"/>
<rect x="331" y="1178" width="5" height="12" fill="#CDB79E"/>
<rect x="338" y="1156" width="5" height="34" fill="#EEC591"/>
<rect x="345" y="1182" width="5" height="8" fill="#8B7355"/>
<rect x="352" y="1163" width="5" height="27" fill="#8B7355"/>
<rect x="359" y="1182" width="5" height="8" fill="#CDAA7D"/>
<rect x="366" y="1175" width="5" height="15" fill="#EED5D2"/>
<rect x="373" y="1163" width="5" height="27" fill="#B452CD"/>
<rect x="380" y="1178" width="5" height="12" fill="#7A378B"/>
<rect x="387" y="1138" width="5" height="52" fill="#CDB79E"/>
<rect x="394" y="1125" width="5" height="65" fill="#CDB79E"/>
<rect x="401" y="1154" width="5" height="36" fill="#CDB79E"/>
<rect x="408" y="1158" width="5" height="32" fill="#9ACD32"/>
<rect x="415" y="1144" width="5" height="46" fill="#CDB79E"/>
<rect x="422" y="1189" width="5" height="1" fill="#7777FF"/>
<rect x="429" y="1147" width="5" height="43" fill="#FFD700"/>
<rect x="436" y="1174" width="5" height="16" fill="#FFB6C1"/>
<rect x="443" y="1139" width="5" height="51" fill="#CD9B1D"/>
<rect x="450" y="1138" width="5" height="52" fill="#B4EEB4"/>
<rect x="457" y="1152" width="5" height="38" fill="#D9D9D9"/>
<rect x="464" y="1171" width="5" height="19" fill="#3A5FCD"/>
<rect x="471" y="1167" width="5" height="23" fill="#1E90FF"/>
<rect x="478" y="1154" width="5" height="36" fill="#CDB79E"/>
<rect x="485" y="1180" width="5" height="10" fill="#CDB79E"/>
<rect x="492" y="1130" width="5" height="60" fill="#FFD39B"/>
<rect x="499" y="1163" width="5" height="27" fill="#A6A6A6"/>
<rect x="506" y="1116" width="5" height="74" fill="#008B45"/>
<rect x="513" y="1183" width="5" height="7" fill="#EED5D2"/>
<rect x="520" y="1170" width="5" height="20" fill="#EED5D2"/>
<rect x="527" y="1177" width="5" height="13" fill="#FF00FF"/>
<rect x="156" y="1191" width="793" height="2" fill="rgb(0,0,110)"/>
<text transform="translate(152,1160) scale(1,1.08)" text-anchor="end" >RAP1GAP</text>
<text transform="translate(552.5,1208) scale(1,1.08)" text-anchor="middle" word-spacing="0.4" >H3K27Ac Mark (Often Found Near Active Regulatory Elements) on 7 cell lines from ENCODE</text>
<text transform="translate(13,1222) scale(1,1.08)" word-spacing="0.4" >Layered H3K27Ac</text>
<rect x="156" y="1239" width="793" height="1.3" fill="rgb(40,80,100)"/>
<text transform="translate(552.5,1254) scale(1,1.08)" text-anchor="middle" fill="rgb(60,60,150)" word-spacing="0.4" >100 vertebrates Basewise Conservation by PhyloP</text>
<text transform="translate(152,1252.6) scale(1,1.08)" text-anchor="end" fill="rgb(60,60,150)" word-spacing="0.4" >4.88 _</text>
<text transform="translate(14,1277.4) scale(1,1.08)" fill="rgb(60,60,150)" word-spacing="0.4" >100 Vert. Cons</text>
<text transform="translate(152,1303) scale(1,1.08)" text-anchor="end" fill="rgb(140,40,40)" word-spacing="0.4" >-4.5 _</text>
<path d="M333,1278.7L340,1275.9L341.5,1276.6L341.5,1281.2L340,1281.9Z" fill="rgb(165,160,0)"/>
<path d="M340,1276.6L366,1276.6L372.5,1277.4M340,1281.3L366,1281.3L373.8,1280.3" stroke="rgb(165,160,0)" stroke-width="1.3" fill="none"/>
<path d="M464,1282.4L504,1282.4" stroke="rgb(255,150,150)" stroke-width="1" fill="none"/>
<path d="M472,1282.4L496,1282.4" stroke="rgb(250,110,110)" stroke-width="0.8" fill="none"/>
<path d="M597.5,1283L637.5,1283" stroke="rgb(215,212,140)" stroke-width="1.4" fill="none"/>
<path d="M598,1283L604,1283M629,1283L635.5,1283" stroke="rgb(175,170,40)" stroke-width="1.4" fill="none"/>
<path d="M729,1280.1L735.5,1277.8L736.5,1278.5L736.5,1281.2L735.5,1282Z" fill="rgb(165,160,0)"/>
<path d="M736,1278.5L764,1278.5L768.8,1280.1L764,1281.6L736,1281.6" stroke="rgb(165,160,0)" stroke-width="1.15" stroke-linejoin="round" fill="none"/>
<path d="M859,1282.4L897,1282.4" stroke="rgb(205,255,205)" stroke-width="1" fill="none"/>
<rect x="875" y="1281.9" width="6" height="2" fill="rgb(0,230,0)"/>
<text transform="translate(552.5,1320) scale(1.011,1.08)" text-anchor="middle" fill="rgb(10,10,100)" word-spacing="0.4" >Multiz Alignments of 100 Vertebrates</text>
<text transform="translate(152,1334) scale(1,1.08)" text-anchor="end" fill="rgb(230,140,20)" >Gaps</text>
<text transform="translate(152,1349) scale(1,1.08)" text-anchor="end" fill="rgb(12,12,120)" >Human</text>
<text transform="translate(220.3,1349) scale(1,1.08)" text-anchor="middle" fill="rgb(25,25,115)" >T</text>
<text transform="translate(352.45000000000005,1349) scale(1,1.08)" text-anchor="middle" fill="rgb(25,25,115)" >C</text>
<text transform="translate(484.6,1349) scale(1,1.08)" text-anchor="middle" fill="rgb(25,25,115)" >A</text>
<text transform="translate(616.75,1349) scale(1,1.08)" text-anchor="middle" fill="rgb(25,25,115)" >C</text>
<text transform="translate(748.9000000000001,1349) scale(1,1.08)" text-anchor="middle" fill="rgb(25,25,115)" >C</text>
<text transform="translate(881.05,1349) scale(1,1.08)" text-anchor="middle" fill="rgb(25,25,115)" >T</text>
<text transform="translate(152,1364) scale(1,1.08)" text-anchor="end" fill="rgb(12,12,120)" >Rhesus</text>
<text transform="translate(220.3,1364) scale(1,1.08)" text-anchor="middle" fill="rgb(25,25,115)" >T</text>
<text transform="translate(352.45000000000005,1364) scale(1,1.08)" text-anchor="middle" fill="rgb(25,25,115)" >C</text>
<text transform="translate(484.6,1364) scale(1,1.08)" text-anchor="middle" fill="rgb(25,25,115)" >A</text>
<text transform="translate(616.75,1364) scale(1,1.08)" text-anchor="middle" fill="rgb(25,25,115)" >C</text>
<text transform="translate(748.9000000000001,1364) scale(1,1.08)" text-anchor="middle" fill="rgb(25,25,115)" >C</text>
<text transform="translate(881.05,1364) scale(1,1.08)" text-anchor="middle" fill="rgb(25,25,115)" >T</text>
<text transform="translate(152,1379) scale(1,1.08)" text-anchor="end" fill="rgb(0,100,0)" >Mouse</text>
<path d="M217.0,1374h6.3v1h-6.3zM217.0,1377h6.3v1h-6.3z" fill="rgb(95,95,160)"/>
<path d="M349.15,1374h6.3v1h-6.3zM349.15,1377h6.3v1h-6.3z" fill="rgb(95,95,160)"/>
<path d="M481.3,1374h6.3v1h-6.3zM481.3,1377h6.3v1h-6.3z" fill="rgb(95,95,160)"/>
<path d="M613.45,1374h6.3v1h-6.3zM613.45,1377h6.3v1h-6.3z" fill="rgb(95,95,160)"/>
<path d="M745.6,1374h6.3v1h-6.3zM745.6,1377h6.3v1h-6.3z" fill="rgb(95,95,160)"/>
<path d="M877.75,1374h6.3v1h-6.3zM877.75,1377h6.3v1h-6.3z" fill="rgb(95,95,160)"/>
<text transform="translate(152,1394) scale(1,1.08)" text-anchor="end" fill="rgb(12,12,120)" >Dog</text>
<path d="M217.0,1389h6.3v1h-6.3zM217.0,1392h6.3v1h-6.3z" fill="rgb(95,95,160)"/>
<path d="M349.15,1389h6.3v1h-6.3zM349.15,1392h6.3v1h-6.3z" fill="rgb(95,95,160)"/>
<path d="M481.3,1389h6.3v1h-6.3zM481.3,1392h6.3v1h-6.3z" fill="rgb(95,95,160)"/>
<path d="M613.45,1389h6.3v1h-6.3zM613.45,1392h6.3v1h-6.3z" fill="rgb(95,95,160)"/>
<path d="M745.6,1389h6.3v1h-6.3zM745.6,1392h6.3v1h-6.3z" fill="rgb(95,95,160)"/>
<path d="M877.75,1389h6.3v1h-6.3zM877.75,1392h6.3v1h-6.3z" fill="rgb(95,95,160)"/>
<text transform="translate(152,1409) scale(1,1.08)" text-anchor="end" fill="rgb(0,100,0)" >Elephant</text>
<path d="M217.0,1404h6.3v1h-6.3zM217.0,1407h6.3v1h-6.3z" fill="rgb(95,95,160)"/>
<path d="M349.15,1404h6.3v1h-6.3zM349.15,1407h6.3v1h-6.3z" fill="rgb(95,95,160)"/>
<path d="M481.3,1404h6.3v1h-6.3zM481.3,1407h6.3v1h-6.3z" fill="rgb(95,95,160)"/>
<path d="M613.45,1404h6.3v1h-6.3zM613.45,1407h6.3v1h-6.3z" fill="rgb(95,95,160)"/>
<path d="M745.6,1404h6.3v1h-6.3zM745.6,1407h6.3v1h-6.3z" fill="rgb(95,95,160)"/>
<path d="M877.75,1404h6.3v1h-6.3zM877.75,1407h6.3v1h-6.3z" fill="rgb(95,95,160)"/>
<text transform="translate(152,1424) scale(1,1.08)" text-anchor="end" fill="rgb(0,100,0)" >Chicken</text>
<path d="M217.0,1419h6.3v1h-6.3zM217.0,1422h6.3v1h-6.3z" fill="rgb(95,95,160)"/>
<path d="M349.15,1419h6.3v1h-6.3zM349.15,1422h6.3v1h-6.3z" fill="rgb(95,95,160)"/>
<path d="M481.3,1419h6.3v1h-6.3zM481.3,1422h6.3v1h-6.3z" fill="rgb(95,95,160)"/>
<path d="M613.45,1419h6.3v1h-6.3zM613.45,1422h6.3v1h-6.3z" fill="rgb(95,95,160)"/>
<path d="M745.6,1419h6.3v1h-6.3zM745.6,1422h6.3v1h-6.3z" fill="rgb(95,95,160)"/>
<path d="M877.75,1419h6.3v1h-6.3zM877.75,1422h6.3v1h-6.3z" fill="rgb(95,95,160)"/>
<text transform="translate(152,1439) scale(1,1.08)" text-anchor="end" fill="rgb(12,12,120)" >X_tropicalis</text>
<text transform="translate(152,1454) scale(1,1.08)" text-anchor="end" fill="rgb(0,100,0)" >Zebrafish</text>
<text transform="translate(552.5,1470) scale(1,1.08)" text-anchor="middle" word-spacing="0.4" >Repeating Elements by RepeatMasker</text>
<text transform="translate(152,1484) scale(1,1.08)" text-anchor="end" >RepeatMasker</text>
<rect x="156" y="1472" width="793" height="14.75" fill="#000"/></svg></body></html>
